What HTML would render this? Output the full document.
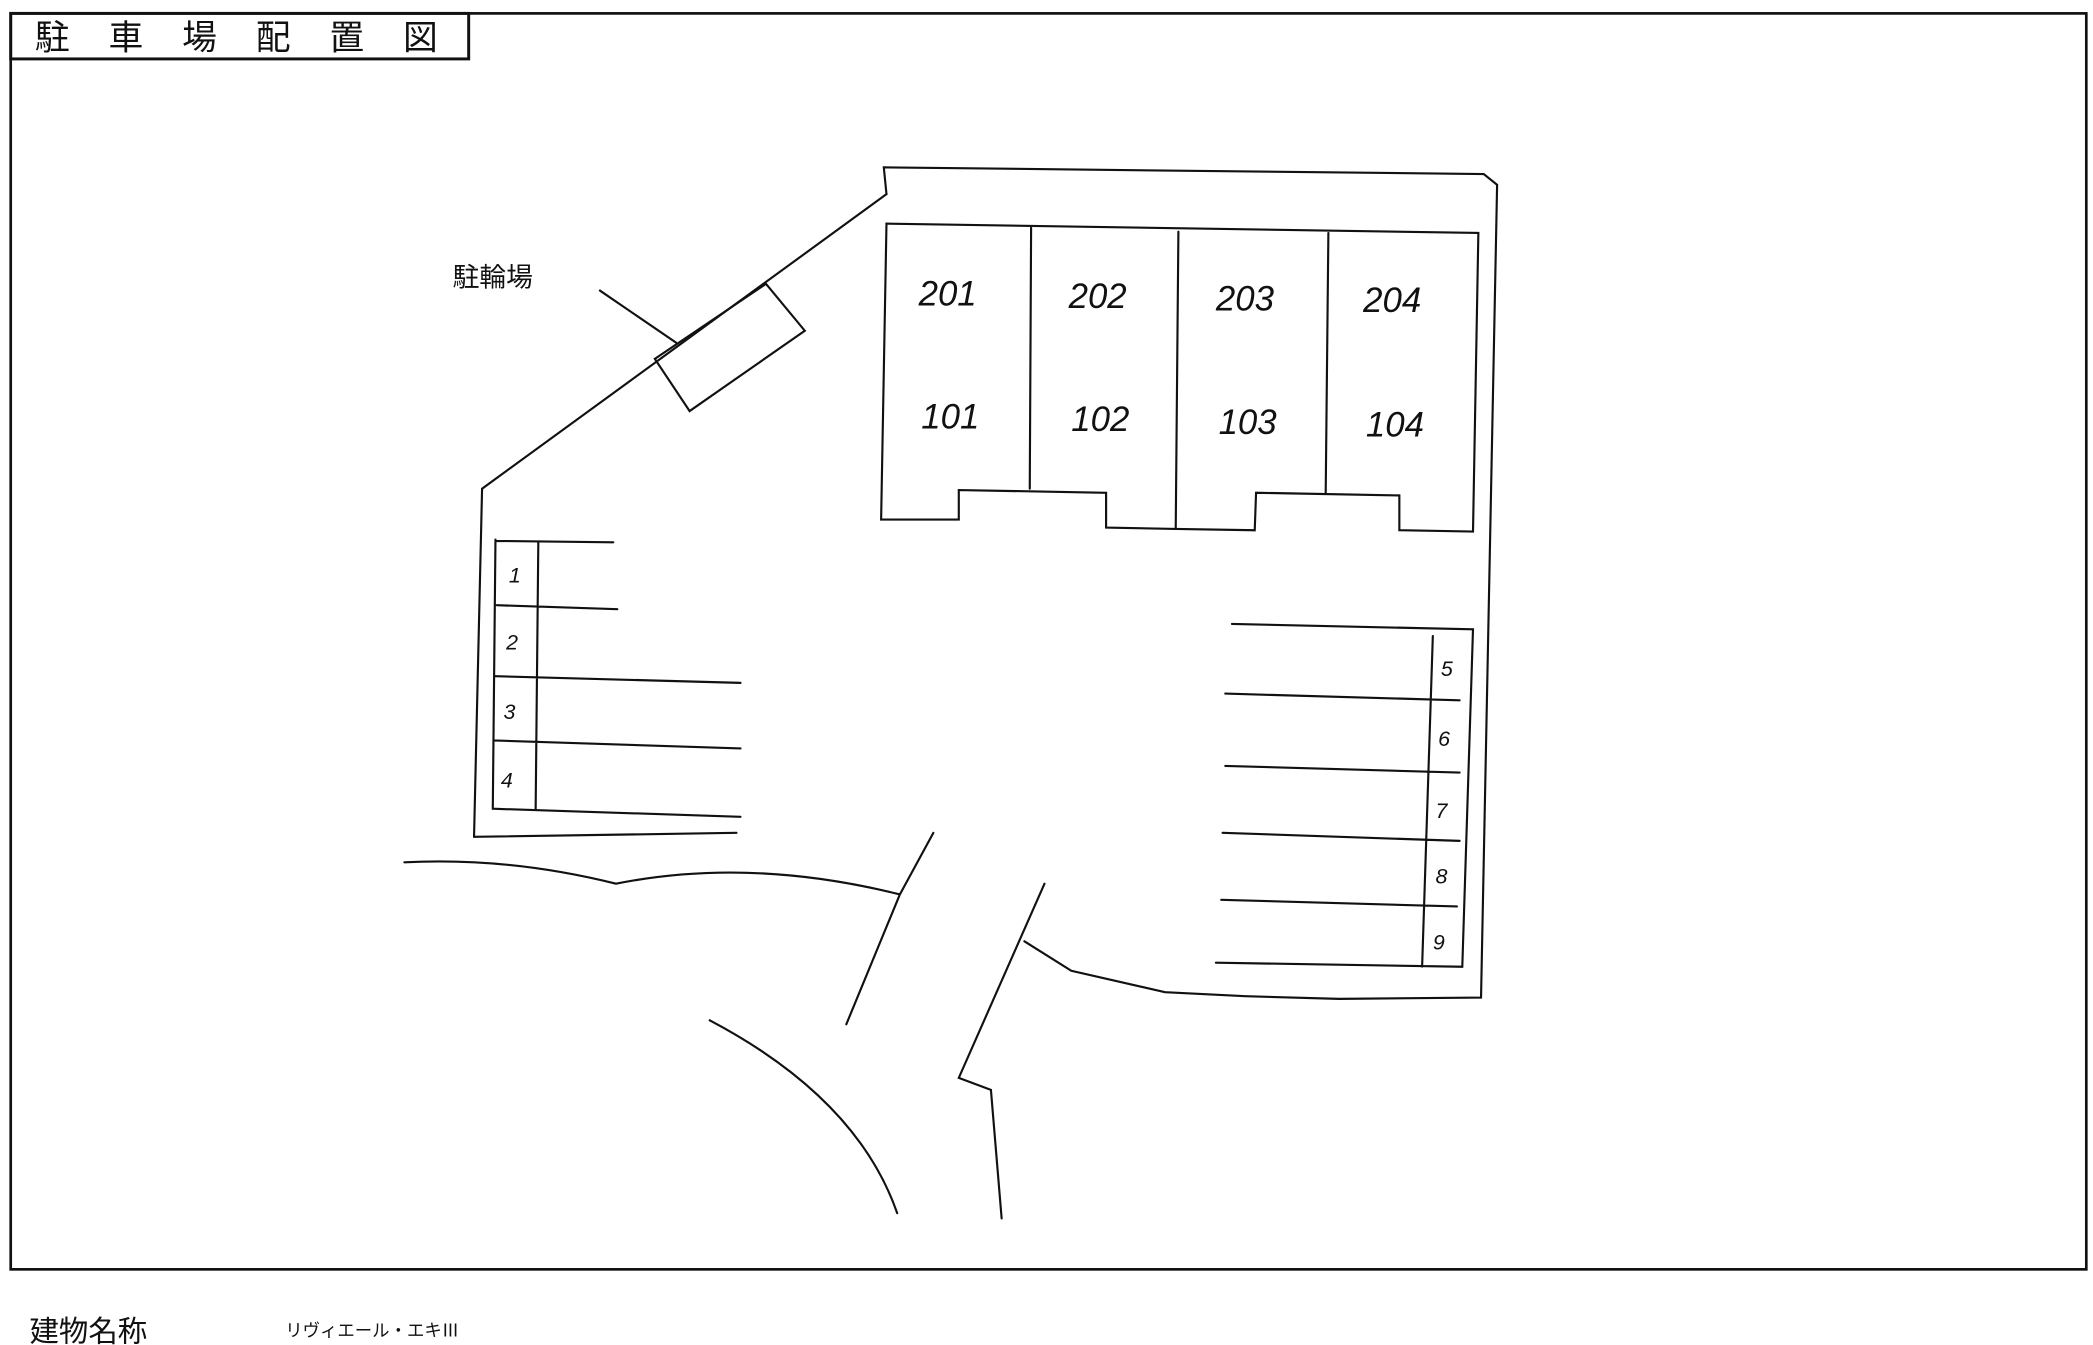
<!DOCTYPE html>
<html><head><meta charset="utf-8"><style>
html,body{margin:0;padding:0;background:#fff;}
svg{display:block;}
text{font-family:"Liberation Sans","Noto Sans CJK JP",sans-serif;fill:#111;}
.h{font-family:"Liberation Serif","Noto Sans CJK JP",serif;font-style:italic;fill:#222;}
</style></head><body>
<svg width="2093" height="1345" viewBox="0 0 1563 1004.5" preserveAspectRatio="none" xmlns="http://www.w3.org/2000/svg">
<g fill="none" stroke="#111" stroke-width="1.6" stroke-linecap="round">
<rect x="8" y="10" width="1550" height="938" stroke-width="2"/>
<rect x="8" y="10" width="342" height="34" stroke-width="2.2"/>
<path d="M662 145 L660 125 L1108 130 L1118 138 L1106 745 L1000 746 L930 744 L870 741 L800 725 L765 703"/>
<path d="M662 145 L360 365 L354 625"/>
<path d="M354 625 L550 622"/>
<path d="M662 167 L1104 174 L1100 397 L1045 396 L1045 370 L938 368 L937 396 L878 395 L826 394 L826 368 L716 366 L716 388 L658 388 Z"/>
<path d="M770 170 L769 365 M880 173 L878 395 M992 174 L990 368"/>
<path d="M489 268 L572 212 L601 247 L515 307 Z"/>
<path d="M448 217 L505 256"/>
<path d="M370 403 L368 604 L553 610 M370 404 L458 405 M371 452 L461 455 M370 505 L553 510 M369 553 L553 559 M402 405 L400 605"/>
<path d="M920 466 L1100 470 L1092 722 L908 719 M915 518 L1090 523 M915 572 L1090 577 M913 622 L1090 628 M912 672 L1088 677 M1070 475 L1062 722"/>
<path d="M302 644 Q380 640 460 660 Q560 640 672 668 M672 668 L697 622 M672 668 L632 765 M530 762 Q640 820 670 906 M780 660 L716 805 L740 814 L748 910"/>
</g>
<g class="h" font-size="26">
<text x="686" y="228">201</text><text x="798" y="230">202</text><text x="908" y="232">203</text><text x="1018" y="233">204</text>
<text x="688" y="320">101</text><text x="800" y="322">102</text><text x="910" y="324">103</text><text x="1020" y="326">104</text>
</g>
<g class="h" font-size="16" style="fill:#555">
<text x="380" y="435">1</text><text x="378" y="485">2</text><text x="376" y="537">3</text><text x="374" y="588">4</text>
<text x="1076" y="505">5</text><text x="1074" y="557">6</text><text x="1072" y="611">7</text><text x="1072" y="660">8</text><text x="1070" y="709">9</text>
</g>
<text x="338" y="214" font-size="20">駐輪場</text>
<text x="26" y="37" font-size="26" letter-spacing="29">駐車場配置図</text>
<text x="22" y="1002" font-size="22">建物名称</text>
<text x="213" y="998" font-size="13">リヴィエール・エキⅢ</text>
</svg>
</body></html>
